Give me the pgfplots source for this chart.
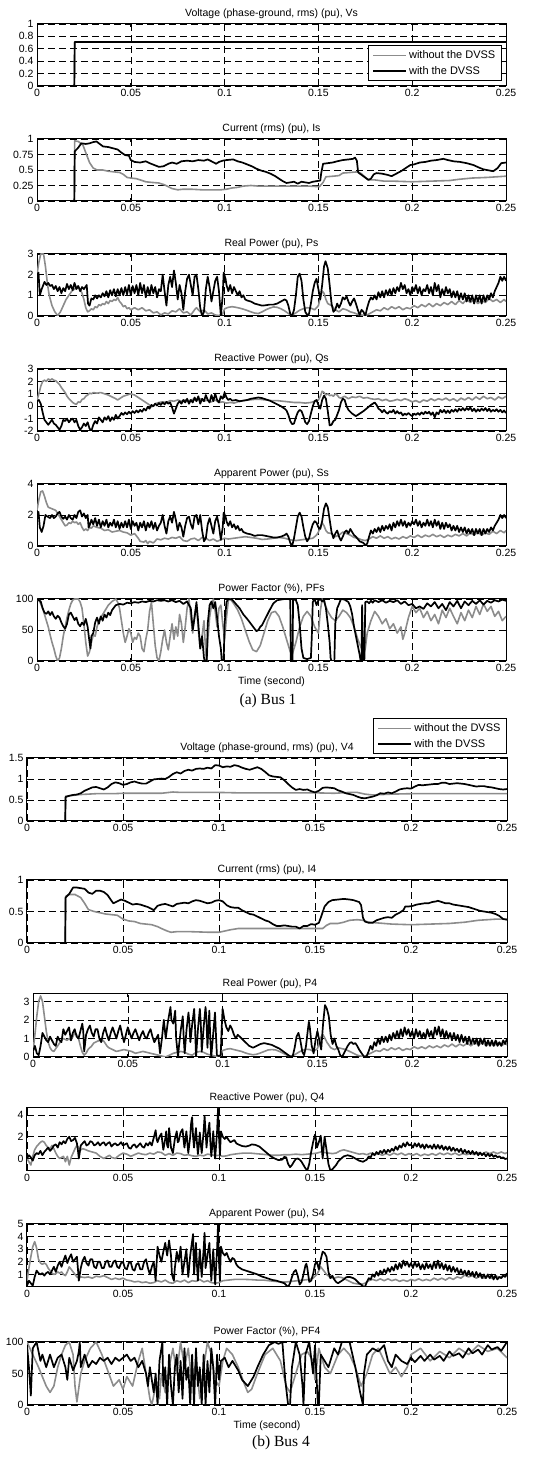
\documentclass[border=0pt]{standalone}
\usepackage{pgfplots}
\pgfplotsset{compat=1.18}
\usepackage{fontspec}
\setmainfont{Liberation Sans}
\newfontfamily\capfont{Liberation Serif}
\definecolor{mgray}{RGB}{140,140,140}
\pgfplotsset{
  mat/.style={
    scale only axis, xmin=0, xmax=0.25,
    xtick={0,0.05,0.1,0.15,0.2,0.25},
    xticklabels={0,0.05,0.1,0.15,0.2,0.25},
    grid=major,
    major grid style={black, line width=0.6pt, dash pattern=on 7pt off 4pt},
    axis line style={black, line width=1pt},
    tick align=inside, major tick length=3pt,
    tick style={black, line width=0.7pt},
    tick label style={font=\fontsize{10.5}{12}\selectfont},
    title style={font=\fontsize{10.5}{12}\selectfont, at={(0.5,1)}, anchor=south, yshift=-2.5pt, inner sep=2pt},
    legend style={draw=black, line width=1pt, font=\fontsize{11}{13}\selectfont, cells={anchor=west}, inner xsep=4pt, inner ysep=3pt, row sep=2pt},
    legend image code/.code={\draw[#1] (0pt,0pt) -- (33pt,0pt);},
    every axis plot/.append style={line join=round},
  },
  pa/.style={mat, width=469pt, height=62pt},
  pb/.style={mat, width=480pt, height=63pt},
  gr/.style={color=mgray, line width=1.6pt},
  bk/.style={black, line width=1.7pt},
  tlab/.style={xlabel={Time (second)}, xlabel style={font=\fontsize{10.5}{12}\selectfont, at={(axis description cs:0.5,0)}, anchor=north, yshift=-16pt, inner sep=0pt}},
}
\begin{document}
\begin{tikzpicture}
\path[use as bounding box] (0pt,0pt) rectangle (547pt,1458pt);
% ================= (a) Bus 1 =================
\begin{axis}[pa, at={(37pt,1372pt)}, anchor=south west, ymin=0, ymax=1,
  ytick={0,0.2,0.4,0.6,0.8,1}, yticklabels={0,0.2,0.4,0.6,0.8,1},
  title={Voltage (phase-ground, rms) (pu), Vs},
  legend style={at={(0.991,0.08)}, anchor=south east}]
\addplot[gr] coordinates {(0,0)(0.0199,0)(0.0201,0.71)(0.25,0.71)};
\addlegendentry{without the DVSS}
\addplot[bk] coordinates {(0,0)(0.0199,0)(0.0201,0.71)(0.25,0.71)};
\addlegendentry{with the DVSS}
\end{axis}

\begin{axis}[pa, at={(37pt,1257pt)}, anchor=south west, ymin=0, ymax=1,
  ytick={0,0.25,0.5,0.75,1}, yticklabels={0,0.25,0.5,0.75,1},
  title={Current (rms) (pu), Is}]
\addplot[gr] coordinates {(0,0)(0.0199,0)(0.0201,0.97)(0.022,0.96)(0.0245,0.90)(0.026,0.78)(0.028,0.62)(0.030,0.53)(0.032,0.50)(0.035,0.50)(0.038,0.48)(0.041,0.47)(0.044,0.46)(0.046,0.43)(0.048,0.38)(0.050,0.37)(0.053,0.36)(0.056,0.33)(0.058,0.31)(0.061,0.30)(0.065,0.29)(0.068,0.26)(0.070,0.23)(0.072,0.20)(0.075,0.18)(0.078,0.19)(0.082,0.19)(0.088,0.18)(0.094,0.18)(0.098,0.18)(0.101,0.19)(0.104,0.21)(0.107,0.22)(0.110,0.24)(0.114,0.25)(0.118,0.24)(0.125,0.24)(0.135,0.24)(0.145,0.24)(0.1505,0.23)(0.1525,0.30)(0.154,0.39)(0.158,0.40)(0.161,0.41)(0.163,0.45)(0.167,0.46)(0.171,0.47)(0.173,0.44)(0.175,0.38)(0.177,0.34)(0.180,0.34)(0.185,0.32)(0.19,0.32)(0.2,0.31)(0.21,0.32)(0.22,0.33)(0.225,0.35)(0.232,0.37)(0.24,0.38)(0.245,0.39)(0.25,0.40)};
\addplot[bk] coordinates {(0,0)(0.0199,0)(0.0201,0.80)(0.022,0.86)(0.0236,0.93)(0.026,0.92)(0.028,0.93)(0.030,0.95)(0.0317,0.96)(0.033,0.93)(0.0352,0.88)(0.038,0.87)(0.0405,0.85)(0.043,0.83)(0.045,0.78)(0.047,0.74)(0.049,0.73)(0.050,0.66)(0.052,0.63)(0.055,0.62)(0.058,0.64)(0.060,0.61)(0.0625,0.58)(0.065,0.55)(0.0675,0.56)(0.070,0.60)(0.072,0.62)(0.0745,0.60)(0.077,0.64)(0.080,0.65)(0.083,0.64)(0.086,0.66)(0.089,0.65)(0.091,0.67)(0.093,0.64)(0.0955,0.60)(0.097,0.63)(0.099,0.65)(0.101,0.66)(0.1046,0.67)(0.107,0.64)(0.1095,0.62)(0.112,0.59)(0.1145,0.56)(0.117,0.52)(0.1195,0.49)(0.122,0.47)(0.1245,0.44)(0.127,0.40)(0.129,0.36)(0.131,0.32)(0.133,0.29)(0.135,0.30)(0.137,0.31)(0.139,0.28)(0.141,0.31)(0.143,0.30)(0.145,0.29)(0.147,0.31)(0.149,0.32)(0.151,0.33)(0.1515,0.45)(0.1525,0.60)(0.155,0.61)(0.1575,0.62)(0.160,0.64)(0.163,0.66)(0.166,0.67)(0.1685,0.68)(0.1695,0.70)(0.1705,0.65)(0.1712,0.46)(0.1735,0.41)(0.1766,0.34)(0.178,0.36)(0.1795,0.43)(0.181,0.45)(0.184,0.44)(0.187,0.42)(0.189,0.40)(0.1915,0.44)(0.194,0.48)(0.1965,0.53)(0.199,0.58)(0.201,0.59)(0.204,0.62)(0.207,0.63)(0.210,0.65)(0.213,0.66)(0.2166,0.68)(0.219,0.66)(0.222,0.64)(0.2255,0.63)(0.229,0.61)(0.2326,0.58)(0.2355,0.54)(0.238,0.51)(0.2397,0.50)(0.2432,0.48)(0.2455,0.53)(0.2475,0.61)(0.25,0.62)};
\end{axis}

\begin{axis}[pa, at={(37pt,1142pt)}, anchor=south west, ymin=0, ymax=3,
  ytick={0,1,2,3}, yticklabels={0,1,2,3},
  title={Real Power (pu), Ps}]
\addplot[gr] coordinates {(0,2.0)(0.001,2.6)(0.002,3.0)(0.0035,3.0)(0.0045,2.4)(0.0055,1.6)(0.0065,1.0)(0.008,0.5)(0.0095,0.2)(0.011,0.02)(0.0125,0.2)(0.014,0.5)(0.0155,0.8)(0.017,1.0)(0.0185,1.2)(0.020,1.3)(0.0215,1.45)(0.023,1.3)(0.024,1.1)(0.025,0.8)(0.026,0.4)(0.027,0.2)(0.028,0.25)(0.029,0.35)(0.030,0.3)(0.031,0.45)(0.032,0.4)(0.033,0.55)(0.034,0.5)(0.035,0.6)(0.036,0.55)(0.037,0.7)(0.038,0.6)(0.039,0.75)(0.040,0.7)(0.041,0.8)(0.042,0.75)(0.043,0.9)(0.044,0.7)(0.045,0.6)(0.046,0.45)(0.047,0.5)(0.048,0.35)(0.049,0.4)(0.050,0.3)(0.052,0.4)(0.054,0.3)(0.056,0.4)(0.058,0.25)(0.060,0.3)(0.062,0.15)(0.064,0.2)(0.066,0.05)(0.068,0.15)(0.070,0.1)(0.072,0.25)(0.074,0.2)(0.076,0.35)(0.078,0.15)(0.080,0.2)(0.082,0.05)(0.084,0.3)(0.085,0.4)(0.087,0.2)(0.089,0.3)(0.091,0.1)(0.093,0.15)(0.095,0.05)(0.097,0.02)(0.099,0.1)(0.100,0.35)(0.102,0.42)(0.104,0.45)(0.106,0.42)(0.108,0.38)(0.110,0.33)(0.112,0.27)(0.114,0.2)(0.116,0.14)(0.118,0.12)(0.120,0.2)(0.122,0.3)(0.124,0.38)(0.126,0.44)(0.128,0.42)(0.130,0.35)(0.132,0.25)(0.134,0.12)(0.136,0.05)(0.138,0.15)(0.140,0.28)(0.142,0.35)(0.144,0.4)(0.146,0.38)(0.148,0.3)(0.150,0.5)(0.151,0.9)(0.152,1.2)(0.153,1.1)(0.154,0.8)(0.155,0.6)(0.157,0.5)(0.159,0.3)(0.161,0.2)(0.163,0.35)(0.165,0.3)(0.167,0.2)(0.169,0.15)(0.171,0.08)(0.173,0.05)(0.175,0.02)(0.177,0.1)(0.179,0.2)(0.181,0.3)(0.183,0.25)(0.185,0.4)(0.187,0.3)(0.189,0.45)(0.191,0.35)(0.193,0.45)(0.195,0.3)(0.197,0.4)(0.199,0.35)(0.201,0.5)(0.203,0.4)(0.205,0.55)(0.207,0.45)(0.209,0.6)(0.211,0.45)(0.213,0.6)(0.215,0.5)(0.217,0.65)(0.219,0.55)(0.221,0.7)(0.223,0.55)(0.225,0.75)(0.227,0.6)(0.229,0.8)(0.231,0.65)(0.233,0.8)(0.235,0.6)(0.237,0.75)(0.239,0.65)(0.241,0.85)(0.243,0.7)(0.245,0.8)(0.247,0.65)(0.249,0.8)(0.25,0.7)};
\addplot[bk] coordinates {(0,2.0)(0.0008,2.1)(0.0015,1.0)(0.0025,1.3)(0.004,1.65)(0.005,1.5)(0.006,1.6)(0.007,1.45)(0.008,1.5)(0.009,1.3)(0.010,1.45)(0.011,1.2)(0.012,1.4)(0.013,1.1)(0.014,1.35)(0.015,1.2)(0.016,1.55)(0.017,1.3)(0.018,1.5)(0.019,1.25)(0.020,1.6)(0.021,1.3)(0.022,1.45)(0.023,1.2)(0.024,1.4)(0.025,1.3)(0.0265,1.5)(0.0272,0.6)(0.028,0.5)(0.029,0.85)(0.030,0.8)(0.031,1.0)(0.032,0.85)(0.033,1.0)(0.034,0.9)(0.035,1.1)(0.036,0.95)(0.037,1.2)(0.038,0.9)(0.039,1.25)(0.040,1.0)(0.041,1.3)(0.042,0.95)(0.043,1.3)(0.044,1.0)(0.045,1.35)(0.046,1.0)(0.047,1.4)(0.048,1.05)(0.049,1.5)(0.050,1.0)(0.051,1.45)(0.052,1.1)(0.053,1.5)(0.054,1.0)(0.055,1.6)(0.056,1.1)(0.057,1.5)(0.058,0.9)(0.059,1.4)(0.060,1.0)(0.061,1.5)(0.062,1.1)(0.063,1.4)(0.064,0.9)(0.065,1.3)(0.066,1.2)(0.067,2.0)(0.068,1.2)(0.069,0.5)(0.070,1.5)(0.071,1.9)(0.072,1.4)(0.073,2.2)(0.074,1.6)(0.075,0.8)(0.076,1.5)(0.077,1.1)(0.078,0.3)(0.079,1.2)(0.080,1.8)(0.081,2.0)(0.082,1.5)(0.083,1.0)(0.084,1.9)(0.085,2.0)(0.086,1.3)(0.087,0.4)(0.088,0.0)(0.089,0.2)(0.090,1.3)(0.091,1.9)(0.092,1.4)(0.093,0.7)(0.094,1.2)(0.095,1.7)(0.096,1.9)(0.097,1.2)(0.098,0.0)(0.099,1.0)(0.0995,2.1)(0.1005,1.8)(0.101,1.5)(0.102,1.2)(0.103,1.5)(0.104,1.1)(0.105,1.4)(0.106,1.2)(0.107,1.0)(0.108,1.2)(0.109,0.9)(0.110,1.0)(0.111,0.8)(0.112,0.75)(0.114,0.7)(0.116,0.6)(0.118,0.55)(0.120,0.5)(0.122,0.52)(0.124,0.55)(0.126,0.55)(0.128,0.6)(0.130,0.7)(0.132,0.8)(0.133,0.75)(0.134,0.5)(0.135,0.1)(0.136,0.0)(0.137,0.3)(0.138,1.0)(0.139,1.9)(0.140,2.05)(0.141,1.7)(0.142,0.8)(0.143,0.2)(0.144,0.05)(0.145,0.1)(0.146,0.6)(0.147,1.2)(0.148,1.6)(0.149,1.8)(0.150,1.3)(0.151,0.8)(0.152,1.5)(0.153,2.4)(0.1538,2.65)(0.155,2.3)(0.156,1.5)(0.157,0.6)(0.158,0.2)(0.159,0.3)(0.160,0.6)(0.161,0.4)(0.162,0.6)(0.163,0.9)(0.164,0.8)(0.165,0.95)(0.166,0.7)(0.167,0.5)(0.168,0.7)(0.169,0.85)(0.170,0.6)(0.171,0.3)(0.172,0.05)(0.173,0.3)(0.174,0.2)(0.175,0.0)(0.176,0.4)(0.177,0.7)(0.178,0.9)(0.179,0.8)(0.180,1.0)(0.181,0.8)(0.182,1.15)(0.183,0.9)(0.184,1.2)(0.185,0.9)(0.186,1.25)(0.187,1.0)(0.188,1.3)(0.189,1.0)(0.190,1.35)(0.191,1.1)(0.192,1.4)(0.193,1.2)(0.194,1.6)(0.195,1.3)(0.196,1.5)(0.197,1.1)(0.198,1.3)(0.199,1.0)(0.200,1.4)(0.201,1.2)(0.202,1.5)(0.203,1.1)(0.204,1.4)(0.205,1.0)(0.206,1.3)(0.207,1.2)(0.208,1.5)(0.209,1.1)(0.210,1.4)(0.211,1.0)(0.212,1.6)(0.213,1.2)(0.214,1.5)(0.215,0.9)(0.216,1.3)(0.217,1.0)(0.218,1.4)(0.219,1.1)(0.220,1.3)(0.221,0.9)(0.222,1.2)(0.223,0.9)(0.224,1.2)(0.225,0.8)(0.226,1.1)(0.227,0.8)(0.228,1.1)(0.229,0.7)(0.230,1.0)(0.231,0.7)(0.232,1.0)(0.233,0.6)(0.234,1.0)(0.235,0.7)(0.236,1.0)(0.237,0.6)(0.238,1.0)(0.239,0.7)(0.240,1.0)(0.241,0.8)(0.242,1.1)(0.243,0.9)(0.244,1.2)(0.245,1.4)(0.246,1.6)(0.247,1.9)(0.248,1.7)(0.249,1.9)(0.25,1.7)};
\end{axis}

\begin{axis}[pa, at={(37pt,1027pt)}, anchor=south west, ymin=-2, ymax=3,
  ytick={-2,-1,0,1,2,3}, yticklabels={-2,-1,0,1,2,3},
  title={Reactive Power (pu), Qs}]
\addplot[gr] coordinates {(0,0.5)(0.001,1.0)(0.002,1.6)(0.003,2.0)(0.004,2.1)(0.005,2.0)(0.006,2.2)(0.007,2.1)(0.008,2.2)(0.009,2.1)(0.010,2.05)(0.011,1.9)(0.012,1.75)(0.013,1.5)(0.014,1.3)(0.015,1.1)(0.016,0.8)(0.017,0.6)(0.018,0.45)(0.019,0.3)(0.020,0.2)(0.021,0.15)(0.022,0.35)(0.023,0.3)(0.024,0.55)(0.025,0.6)(0.026,0.8)(0.027,0.9)(0.028,1.05)(0.029,1.0)(0.030,1.1)(0.032,1.05)(0.034,1.1)(0.036,1.0)(0.038,0.9)(0.040,0.75)(0.042,0.6)(0.043,0.5)(0.044,0.6)(0.046,0.8)(0.048,0.9)(0.050,1.0)(0.052,0.9)(0.054,0.7)(0.056,0.5)(0.058,0.3)(0.060,0.1)(0.061,-0.05)(0.062,0.0)(0.063,0.2)(0.065,0.3)(0.067,0.35)(0.069,0.3)(0.071,0.45)(0.073,0.4)(0.075,0.5)(0.077,0.4)(0.079,0.5)(0.081,0.45)(0.083,0.55)(0.085,0.45)(0.087,0.6)(0.089,0.4)(0.091,0.5)(0.093,0.35)(0.095,0.5)(0.097,0.3)(0.099,0.35)(0.101,0.25)(0.103,0.3)(0.105,0.25)(0.107,0.35)(0.110,0.45)(0.113,0.5)(0.116,0.55)(0.119,0.55)(0.122,0.5)(0.125,0.45)(0.128,0.45)(0.131,0.4)(0.134,0.35)(0.137,0.3)(0.140,0.3)(0.143,0.25)(0.146,0.3)(0.148,0.4)(0.150,0.5)(0.151,0.8)(0.152,1.2)(0.153,1.1)(0.154,0.9)(0.155,1.0)(0.156,0.85)(0.157,0.9)(0.158,0.8)(0.159,1.0)(0.160,0.9)(0.161,0.7)(0.162,0.65)(0.164,0.8)(0.166,0.6)(0.168,0.75)(0.170,0.7)(0.172,0.8)(0.174,0.65)(0.176,0.7)(0.178,0.6)(0.180,0.55)(0.182,0.6)(0.184,0.45)(0.186,0.55)(0.188,0.4)(0.190,0.45)(0.192,0.55)(0.194,0.45)(0.196,0.6)(0.198,0.5)(0.200,0.35)(0.202,0.45)(0.204,0.3)(0.206,0.5)(0.208,0.4)(0.210,0.6)(0.212,0.45)(0.214,0.6)(0.216,0.5)(0.218,0.65)(0.220,0.45)(0.222,0.6)(0.224,0.4)(0.226,0.65)(0.228,0.5)(0.230,0.7)(0.232,0.5)(0.234,0.75)(0.236,0.55)(0.238,0.8)(0.240,0.6)(0.242,0.7)(0.244,0.5)(0.246,0.75)(0.248,0.6)(0.25,0.8)};
\addplot[bk] coordinates {(0,0.4)(0.001,0.5)(0.002,0.2)(0.003,-0.5)(0.004,-1.1)(0.005,-1.3)(0.006,-1.5)(0.007,-1.3)(0.008,-1.1)(0.009,-1.4)(0.010,-1.5)(0.011,-1.7)(0.012,-1.9)(0.013,-1.6)(0.014,-1.1)(0.015,-1.2)(0.016,-1.0)(0.017,-1.3)(0.018,-1.1)(0.019,-1.0)(0.020,-1.3)(0.021,-1.1)(0.022,-1.6)(0.023,-1.9)(0.024,-1.7)(0.025,-1.4)(0.026,-1.6)(0.027,-1.3)(0.028,-1.8)(0.029,-2.0)(0.030,-1.5)(0.031,-1.2)(0.032,-1.4)(0.033,-0.9)(0.034,-1.1)(0.035,-1.3)(0.036,-0.9)(0.037,-1.1)(0.038,-0.8)(0.039,-1.2)(0.040,-0.9)(0.041,-1.1)(0.042,-0.7)(0.043,-1.0)(0.044,-0.8)(0.045,-0.55)(0.046,-0.7)(0.047,-0.5)(0.048,-0.65)(0.049,-0.45)(0.050,-0.6)(0.051,-0.4)(0.052,-0.55)(0.053,-0.35)(0.054,-0.5)(0.055,-0.3)(0.056,-0.45)(0.057,-0.2)(0.058,-0.35)(0.059,-0.05)(0.060,-0.2)(0.061,0.1)(0.062,0.0)(0.063,0.2)(0.064,0.05)(0.065,0.25)(0.066,0.1)(0.067,0.3)(0.068,0.15)(0.069,0.35)(0.070,0.2)(0.071,0.3)(0.072,-0.1)(0.073,-0.6)(0.074,-0.2)(0.075,0.2)(0.076,0.4)(0.077,0.2)(0.078,0.5)(0.079,0.3)(0.080,0.6)(0.081,0.2)(0.082,0.5)(0.083,0.3)(0.084,0.7)(0.085,0.4)(0.086,0.8)(0.087,0.2)(0.088,0.6)(0.089,0.4)(0.090,0.9)(0.091,0.5)(0.092,0.3)(0.093,0.9)(0.094,0.4)(0.095,1.0)(0.096,0.5)(0.097,0.3)(0.098,0.8)(0.099,0.6)(0.100,1.1)(0.101,0.7)(0.102,0.5)(0.103,0.6)(0.104,0.45)(0.106,0.5)(0.108,0.4)(0.110,0.45)(0.112,0.5)(0.114,0.6)(0.116,0.65)(0.118,0.7)(0.120,0.65)(0.122,0.55)(0.124,0.45)(0.126,0.3)(0.128,0.15)(0.130,0.0)(0.132,-0.2)(0.133,-0.35)(0.134,-0.7)(0.135,-1.2)(0.136,-1.45)(0.137,-1.4)(0.138,-0.9)(0.139,-0.5)(0.140,-0.3)(0.141,-0.4)(0.142,-0.8)(0.143,-1.3)(0.144,-1.45)(0.145,-1.2)(0.146,-0.6)(0.147,0.0)(0.148,0.4)(0.149,0.5)(0.150,0.1)(0.151,-0.2)(0.152,0.5)(0.153,0.85)(0.154,0.6)(0.155,-0.4)(0.156,-1.55)(0.157,-1.5)(0.158,-1.2)(0.159,-1.1)(0.160,-0.7)(0.161,-0.3)(0.162,0.3)(0.163,0.6)(0.164,0.5)(0.165,0.0)(0.166,-0.3)(0.168,-0.6)(0.170,-0.8)(0.172,-0.6)(0.174,-0.4)(0.176,-0.15)(0.178,0.1)(0.180,0.3)(0.181,0.1)(0.182,-0.2)(0.183,-0.3)(0.184,-0.5)(0.185,-0.3)(0.186,-0.5)(0.187,-0.6)(0.188,-0.4)(0.189,-0.5)(0.190,-0.3)(0.191,-0.6)(0.192,-0.4)(0.193,-0.6)(0.194,-0.5)(0.195,-0.75)(0.196,-0.6)(0.197,-0.7)(0.198,-0.55)(0.199,-0.7)(0.200,-0.8)(0.201,-0.6)(0.202,-0.7)(0.203,-0.55)(0.204,-0.7)(0.205,-0.5)(0.206,-0.65)(0.207,-0.45)(0.208,-0.6)(0.209,-0.45)(0.210,-0.7)(0.211,-0.5)(0.212,-0.9)(0.213,-0.5)(0.214,-0.65)(0.215,-0.3)(0.216,-0.5)(0.217,-0.3)(0.218,-0.55)(0.219,-0.35)(0.220,-0.55)(0.221,-0.3)(0.222,-0.45)(0.223,-0.25)(0.224,-0.45)(0.225,-0.2)(0.226,-0.35)(0.227,-0.15)(0.228,-0.35)(0.229,-0.15)(0.230,-0.3)(0.231,-0.1)(0.232,-0.4)(0.233,-0.2)(0.234,-0.45)(0.235,-0.25)(0.236,-0.4)(0.237,-0.2)(0.238,-0.35)(0.239,-0.15)(0.240,-0.4)(0.241,-0.2)(0.242,-0.45)(0.243,-0.3)(0.244,-0.4)(0.245,-0.25)(0.246,-0.45)(0.247,-0.3)(0.248,-0.5)(0.249,-0.35)(0.25,-0.55)};
\end{axis}

\begin{axis}[pa, at={(37pt,912pt)}, anchor=south west, ymin=0, ymax=4,
  ytick={0,2,4}, yticklabels={0,2,4},
  title={Apparent Power (pu), Ss}]
\addplot[gr] coordinates {(0,2.3)(0.001,3.0)(0.002,3.5)(0.003,3.55)(0.004,3.2)(0.005,2.8)(0.006,2.5)(0.008,2.4)(0.010,2.3)(0.011,2.1)(0.012,1.9)(0.013,1.7)(0.014,1.5)(0.015,1.3)(0.016,1.35)(0.017,1.5)(0.018,1.45)(0.019,1.6)(0.020,1.5)(0.021,1.55)(0.022,1.4)(0.023,1.5)(0.024,1.2)(0.025,1.0)(0.026,1.1)(0.027,1.0)(0.028,1.2)(0.029,1.15)(0.030,1.3)(0.032,1.2)(0.034,1.15)(0.036,1.0)(0.038,1.05)(0.040,0.9)(0.042,0.95)(0.044,1.0)(0.046,0.9)(0.048,0.85)(0.050,0.7)(0.052,0.8)(0.054,0.5)(0.055,0.3)(0.057,0.25)(0.058,0.35)(0.059,0.15)(0.060,0.3)(0.062,0.2)(0.064,0.45)(0.066,0.4)(0.068,0.5)(0.070,0.45)(0.072,0.55)(0.074,0.5)(0.076,0.6)(0.078,0.35)(0.080,0.3)(0.082,0.45)(0.084,0.5)(0.086,0.35)(0.088,0.55)(0.090,0.5)(0.092,0.35)(0.094,0.45)(0.096,0.3)(0.098,0.4)(0.100,0.5)(0.102,0.45)(0.105,0.5)(0.108,0.55)(0.111,0.6)(0.114,0.55)(0.117,0.5)(0.120,0.42)(0.123,0.45)(0.126,0.5)(0.129,0.55)(0.132,0.5)(0.135,0.4)(0.138,0.35)(0.141,0.4)(0.144,0.45)(0.147,0.5)(0.149,0.7)(0.150,0.9)(0.151,1.2)(0.152,1.5)(0.153,1.3)(0.154,1.0)(0.155,0.85)(0.157,0.8)(0.159,0.6)(0.161,0.7)(0.163,0.9)(0.165,0.8)(0.167,0.7)(0.169,0.55)(0.171,0.5)(0.173,0.4)(0.175,0.35)(0.177,0.45)(0.179,0.6)(0.181,0.5)(0.183,0.65)(0.185,0.5)(0.187,0.6)(0.189,0.45)(0.191,0.55)(0.193,0.45)(0.195,0.6)(0.197,0.5)(0.199,0.65)(0.201,0.55)(0.203,0.7)(0.205,0.55)(0.207,0.7)(0.209,0.6)(0.211,0.75)(0.213,0.6)(0.215,0.7)(0.217,0.55)(0.219,0.7)(0.221,0.6)(0.223,0.75)(0.225,0.65)(0.227,0.8)(0.229,0.65)(0.231,0.85)(0.233,0.7)(0.235,0.9)(0.237,0.7)(0.239,0.85)(0.241,0.75)(0.243,0.95)(0.245,0.8)(0.247,1.0)(0.249,0.85)(0.25,1.0)};
\addplot[bk] coordinates {(0,2.0)(0.0008,2.2)(0.0015,1.2)(0.0025,0.9)(0.0035,1.3)(0.0045,2.0)(0.0055,1.9)(0.007,1.8)(0.008,2.0)(0.009,1.8)(0.010,1.9)(0.011,2.1)(0.012,2.2)(0.013,1.9)(0.014,1.75)(0.015,1.9)(0.016,1.7)(0.017,2.0)(0.018,1.8)(0.019,1.7)(0.020,2.0)(0.021,1.8)(0.022,2.2)(0.023,2.3)(0.024,1.9)(0.025,2.1)(0.026,1.8)(0.027,2.0)(0.0275,1.2)(0.028,1.3)(0.029,1.7)(0.030,1.4)(0.031,1.8)(0.032,1.3)(0.033,1.7)(0.034,1.2)(0.035,1.6)(0.036,1.3)(0.037,1.7)(0.038,1.2)(0.039,1.5)(0.040,1.3)(0.041,1.7)(0.042,1.2)(0.043,1.6)(0.044,1.1)(0.045,1.5)(0.046,1.2)(0.047,1.6)(0.048,1.2)(0.049,1.7)(0.050,1.1)(0.051,1.6)(0.052,1.3)(0.053,1.5)(0.054,1.0)(0.055,1.5)(0.056,1.2)(0.057,1.6)(0.058,1.0)(0.059,1.5)(0.060,1.2)(0.061,1.6)(0.062,1.1)(0.063,1.5)(0.064,1.0)(0.065,1.3)(0.066,1.5)(0.067,2.0)(0.068,1.3)(0.069,0.8)(0.070,1.6)(0.071,1.9)(0.072,1.5)(0.073,2.2)(0.074,1.7)(0.075,1.0)(0.076,1.5)(0.077,1.2)(0.078,0.6)(0.079,1.3)(0.080,1.8)(0.081,1.9)(0.082,1.4)(0.083,1.1)(0.084,1.9)(0.085,2.0)(0.086,1.4)(0.087,2.0)(0.088,1.0)(0.089,0.3)(0.090,0.5)(0.091,1.4)(0.092,1.8)(0.093,1.3)(0.094,0.8)(0.095,1.6)(0.096,1.9)(0.097,1.3)(0.098,0.4)(0.099,1.2)(0.0995,2.15)(0.1005,1.9)(0.101,1.6)(0.102,1.3)(0.103,1.6)(0.104,1.2)(0.105,1.4)(0.106,1.1)(0.107,1.3)(0.108,1.0)(0.109,1.1)(0.110,0.9)(0.112,0.8)(0.114,0.75)(0.116,0.65)(0.118,0.7)(0.120,0.7)(0.122,0.65)(0.124,0.6)(0.126,0.55)(0.128,0.55)(0.130,0.6)(0.132,0.7)(0.133,0.8)(0.134,0.6)(0.135,0.2)(0.136,0.0)(0.137,0.5)(0.138,1.2)(0.139,1.9)(0.140,2.15)(0.141,1.9)(0.142,1.2)(0.143,0.6)(0.144,0.3)(0.145,0.5)(0.146,1.0)(0.147,1.4)(0.148,1.6)(0.149,1.5)(0.150,1.2)(0.151,1.1)(0.152,1.6)(0.153,2.4)(0.154,2.75)(0.155,2.5)(0.156,1.7)(0.157,0.9)(0.158,0.5)(0.159,0.8)(0.160,1.0)(0.161,0.6)(0.162,0.35)(0.163,0.6)(0.164,0.9)(0.165,1.0)(0.166,0.8)(0.167,1.1)(0.168,0.9)(0.169,0.7)(0.170,0.6)(0.171,0.45)(0.172,0.3)(0.173,0.25)(0.174,0.2)(0.175,0.05)(0.176,0.15)(0.177,0.6)(0.178,1.0)(0.179,0.8)(0.180,1.1)(0.181,0.9)(0.182,1.2)(0.183,0.9)(0.184,1.3)(0.185,1.0)(0.186,1.3)(0.187,1.1)(0.188,1.4)(0.189,1.0)(0.190,1.5)(0.191,1.2)(0.192,1.6)(0.193,1.3)(0.194,1.7)(0.195,1.3)(0.196,1.6)(0.197,1.2)(0.198,1.5)(0.199,1.3)(0.200,1.6)(0.201,1.4)(0.202,1.7)(0.203,1.3)(0.204,1.6)(0.205,1.2)(0.206,1.5)(0.207,1.3)(0.208,1.7)(0.209,1.3)(0.210,1.6)(0.211,1.2)(0.212,1.7)(0.213,1.3)(0.214,1.6)(0.215,1.1)(0.216,1.5)(0.217,1.1)(0.218,1.5)(0.219,1.2)(0.220,1.4)(0.221,1.0)(0.222,1.3)(0.223,1.0)(0.224,1.3)(0.225,0.9)(0.226,1.2)(0.227,0.9)(0.228,1.2)(0.229,0.8)(0.230,1.1)(0.231,0.8)(0.232,1.1)(0.233,0.7)(0.234,1.1)(0.235,0.8)(0.236,1.1)(0.237,0.7)(0.238,1.1)(0.239,0.8)(0.240,1.1)(0.241,0.9)(0.242,1.2)(0.243,1.0)(0.244,1.3)(0.245,1.5)(0.246,1.7)(0.247,2.0)(0.248,1.8)(0.249,2.0)(0.25,1.8)};
\end{axis}

\begin{axis}[pa, tlab, at={(37pt,797pt)}, anchor=south west, ymin=0, ymax=100,
  ytick={0,50,100}, yticklabels={0,50,100},
  title={Power Factor (\%), PFs}]
\addplot[gr] coordinates {(0,100)(0.001,98)(0.002,92)(0.003,85)(0.004,75)(0.005,65)(0.006,55)(0.007,42)(0.008,30)(0.009,20)(0.010,8)(0.011,0)(0.012,5)(0.013,20)(0.014,40)(0.015,55)(0.016,70)(0.017,82)(0.018,92)(0.019,98)(0.020,100)(0.022,100)(0.023,95)(0.024,85)(0.025,60)(0.026,30)(0.027,8)(0.028,15)(0.029,30)(0.030,42)(0.031,40)(0.032,55)(0.033,65)(0.034,70)(0.036,80)(0.038,90)(0.040,96)(0.042,100)(0.043,95)(0.044,85)(0.045,65)(0.046,45)(0.047,30)(0.048,40)(0.049,52)(0.050,45)(0.051,30)(0.052,38)(0.053,35)(0.054,45)(0.055,40)(0.056,20)(0.057,15)(0.058,35)(0.059,50)(0.060,80)(0.061,95)(0.062,60)(0.063,25)(0.064,5)(0.065,0)(0.066,15)(0.067,35)(0.068,50)(0.069,30)(0.070,18)(0.071,40)(0.072,60)(0.073,35)(0.074,55)(0.075,40)(0.076,75)(0.077,60)(0.078,30)(0.079,55)(0.080,85)(0.081,100)(0.082,70)(0.083,45)(0.084,75)(0.085,90)(0.086,50)(0.087,20)(0.088,40)(0.089,65)(0.090,10)(0.0905,0)(0.091,30)(0.092,70)(0.093,90)(0.094,100)(0.095,80)(0.096,55)(0.097,85)(0.098,90)(0.099,60)(0.100,35)(0.101,70)(0.102,98)(0.103,100)(0.105,92)(0.107,82)(0.109,68)(0.111,50)(0.113,32)(0.115,18)(0.117,15)(0.119,25)(0.121,45)(0.123,65)(0.125,78)(0.127,80)(0.129,72)(0.131,55)(0.133,35)(0.135,15)(0.136,10)(0.138,30)(0.140,55)(0.142,72)(0.144,80)(0.146,72)(0.148,55)(0.150,45)(0.151,80)(0.152,100)(0.153,95)(0.155,80)(0.157,70)(0.159,65)(0.161,72)(0.163,82)(0.165,78)(0.167,70)(0.169,55)(0.171,35)(0.173,20)(0.174,10)(0.175,20)(0.176,45)(0.178,65)(0.180,80)(0.182,72)(0.184,60)(0.186,68)(0.188,52)(0.190,60)(0.192,45)(0.194,55)(0.195,35)(0.196,45)(0.198,70)(0.200,88)(0.202,78)(0.204,85)(0.206,70)(0.208,80)(0.210,65)(0.212,75)(0.214,60)(0.216,82)(0.218,70)(0.220,85)(0.222,72)(0.224,60)(0.226,78)(0.228,65)(0.230,82)(0.232,70)(0.234,88)(0.236,75)(0.238,92)(0.240,80)(0.242,88)(0.244,72)(0.246,80)(0.248,65)(0.25,72)};
\addplot[bk] coordinates {(0,100)(0.001,98)(0.002,96)(0.003,85)(0.004,78)(0.005,76)(0.006,80)(0.007,74)(0.008,79)(0.009,72)(0.010,68)(0.011,73)(0.012,70)(0.013,62)(0.014,56)(0.015,52)(0.016,60)(0.017,75)(0.018,78)(0.019,72)(0.020,66)(0.021,70)(0.022,60)(0.023,56)(0.024,62)(0.025,58)(0.026,68)(0.027,55)(0.028,30)(0.0285,20)(0.029,40)(0.030,45)(0.031,62)(0.032,70)(0.033,60)(0.034,72)(0.035,65)(0.036,75)(0.037,70)(0.038,78)(0.039,74)(0.040,82)(0.041,86)(0.042,90)(0.044,92)(0.046,91)(0.048,94)(0.050,93)(0.052,95)(0.054,94)(0.056,96)(0.058,95)(0.060,97)(0.062,96)(0.064,98)(0.066,97)(0.068,98)(0.070,96)(0.072,98)(0.074,95)(0.076,97)(0.078,92)(0.080,96)(0.082,85)(0.083,50)(0.084,70)(0.085,95)(0.086,60)(0.087,20)(0.088,40)(0.089,5)(0.0895,0)(0.0905,0)(0.091,60)(0.092,90)(0.093,96)(0.094,85)(0.095,95)(0.096,70)(0.097,40)(0.098,20)(0.0985,0)(0.0995,0)(0.100,60)(0.101,95)(0.102,100)(0.104,99)(0.106,92)(0.108,85)(0.110,75)(0.112,68)(0.114,60)(0.116,52)(0.117,48)(0.118,50)(0.119,55)(0.120,58)(0.122,70)(0.124,82)(0.126,93)(0.128,98)(0.130,99)(0.132,100)(0.134,100)(0.135,99)(0.1353,0)(0.1362,0)(0.1365,100)(0.138,98)(0.139,90)(0.140,60)(0.141,20)(0.142,5)(0.144,3)(0.146,5)(0.1465,40)(0.147,95)(0.148,100)(0.149,90)(0.150,98)(0.151,100)(0.152,96)(0.153,99)(0.154,85)(0.155,60)(0.156,30)(0.1565,5)(0.157,0)(0.1585,0)(0.159,60)(0.160,85)(0.161,92)(0.162,100)(0.164,99)(0.166,95)(0.167,88)(0.168,75)(0.169,55)(0.170,40)(0.171,25)(0.172,10)(0.1725,0)(0.173,0)(0.1733,90)(0.1738,0)(0.1745,0)(0.175,95)(0.176,96)(0.177,93)(0.178,97)(0.179,94)(0.180,98)(0.182,95)(0.184,98)(0.186,94)(0.188,97)(0.190,95)(0.192,98)(0.194,92)(0.196,96)(0.198,90)(0.200,92)(0.202,85)(0.204,88)(0.206,84)(0.208,93)(0.210,88)(0.212,95)(0.214,85)(0.216,92)(0.218,82)(0.220,95)(0.222,88)(0.224,97)(0.226,85)(0.228,96)(0.230,90)(0.232,97)(0.234,92)(0.236,98)(0.238,91)(0.240,97)(0.242,94)(0.244,98)(0.246,96)(0.248,99)(0.25,97)};
\end{axis}
\node[font=\capfont\fontsize{15.5}{18}\selectfont] at (268pt,757pt) {(a) Bus 1};

% ================= (b) Bus 4 =================
\begin{axis}[pb, at={(27pt,637pt)}, anchor=south west, ymin=0, ymax=1.5,
  ytick={0,0.5,1,1.5}, yticklabels={0,0.5,1,1.5},
  title={Voltage (phase-ground, rms) (pu), V4},
  legend style={at={(1,1.06)}, anchor=south east}]
\addplot[gr] coordinates {(0,0)(0.0199,0)(0.0201,0.59)(0.024,0.61)(0.028,0.63)(0.032,0.64)(0.036,0.65)(0.045,0.65)(0.05,0.66)(0.06,0.66)(0.07,0.66)(0.076,0.69)(0.08,0.68)(0.09,0.68)(0.1,0.68)(0.11,0.67)(0.12,0.67)(0.13,0.67)(0.14,0.67)(0.15,0.67)(0.16,0.66)(0.168,0.68)(0.172,0.68)(0.176,0.64)(0.18,0.62)(0.19,0.64)(0.2,0.65)(0.21,0.65)(0.22,0.65)(0.23,0.65)(0.24,0.65)(0.25,0.65)};
\addlegendentry{without the DVSS}
\addplot[bk] coordinates {(0,0)(0.0199,0)(0.0201,0.57)(0.022,0.60)(0.024,0.62)(0.026,0.63)(0.028,0.66)(0.030,0.72)(0.032,0.76)(0.034,0.80)(0.036,0.81)(0.038,0.78)(0.040,0.75)(0.042,0.80)(0.044,0.88)(0.046,0.92)(0.048,0.90)(0.050,0.86)(0.052,0.88)(0.054,0.92)(0.056,0.94)(0.058,0.91)(0.060,0.89)(0.062,0.89)(0.064,0.94)(0.066,0.99)(0.068,1.00)(0.070,1.01)(0.072,1.00)(0.074,1.05)(0.076,1.12)(0.078,1.16)(0.080,1.13)(0.082,1.19)(0.084,1.22)(0.086,1.20)(0.088,1.24)(0.090,1.25)(0.092,1.24)(0.094,1.27)(0.096,1.25)(0.098,1.33)(0.100,1.32)(0.102,1.28)(0.104,1.30)(0.106,1.29)(0.108,1.33)(0.110,1.31)(0.112,1.27)(0.114,1.24)(0.116,1.22)(0.118,1.25)(0.120,1.28)(0.122,1.24)(0.124,1.17)(0.126,1.09)(0.128,1.06)(0.130,1.05)(0.132,1.04)(0.134,0.97)(0.136,0.88)(0.138,0.80)(0.140,0.74)(0.142,0.76)(0.144,0.74)(0.146,0.75)(0.148,0.71)(0.150,0.68)(0.152,0.72)(0.154,0.79)(0.156,0.80)(0.158,0.79)(0.160,0.78)(0.162,0.73)(0.164,0.70)(0.166,0.66)(0.168,0.64)(0.170,0.62)(0.172,0.58)(0.174,0.55)(0.176,0.54)(0.178,0.56)(0.180,0.58)(0.182,0.61)(0.184,0.66)(0.186,0.65)(0.188,0.68)(0.190,0.66)(0.192,0.70)(0.194,0.75)(0.196,0.77)(0.198,0.78)(0.200,0.77)(0.202,0.82)(0.204,0.86)(0.206,0.85)(0.208,0.86)(0.210,0.87)(0.212,0.88)(0.214,0.88)(0.216,0.91)(0.218,0.91)(0.220,0.88)(0.222,0.89)(0.224,0.90)(0.226,0.89)(0.228,0.88)(0.230,0.86)(0.232,0.84)(0.234,0.82)(0.236,0.83)(0.238,0.83)(0.240,0.81)(0.242,0.80)(0.244,0.78)(0.246,0.76)(0.248,0.75)(0.25,0.76)};
\addlegendentry{with the DVSS}
\end{axis}

\begin{axis}[pb, at={(27pt,515pt)}, anchor=south west, ymin=0, ymax=1,
  ytick={0,0.5,1}, yticklabels={0,0.5,1},
  title={Current (rms) (pu), I4}]
\addplot[gr] coordinates {(0,0)(0.0199,0)(0.0201,0.74)(0.022,0.77)(0.025,0.77)(0.028,0.72)(0.030,0.63)(0.032,0.53)(0.035,0.50)(0.038,0.48)(0.041,0.46)(0.044,0.45)(0.047,0.44)(0.050,0.38)(0.053,0.35)(0.056,0.34)(0.059,0.31)(0.062,0.30)(0.065,0.29)(0.068,0.26)(0.070,0.23)(0.073,0.19)(0.075,0.17)(0.078,0.18)(0.085,0.18)(0.095,0.17)(0.100,0.17)(0.103,0.19)(0.106,0.21)(0.110,0.23)(0.12,0.23)(0.13,0.23)(0.14,0.23)(0.15,0.23)(0.154,0.23)(0.156,0.28)(0.158,0.31)(0.162,0.31)(0.165,0.33)(0.168,0.36)(0.172,0.37)(0.175,0.36)(0.178,0.33)(0.182,0.32)(0.19,0.30)(0.2,0.29)(0.21,0.30)(0.22,0.31)(0.228,0.33)(0.235,0.36)(0.24,0.37)(0.245,0.38)(0.25,0.38)};
\addplot[bk] coordinates {(0,0)(0.0199,0)(0.0201,0.72)(0.022,0.78)(0.024,0.88)(0.026,0.88)(0.028,0.87)(0.030,0.86)(0.032,0.80)(0.034,0.78)(0.036,0.83)(0.038,0.83)(0.040,0.81)(0.042,0.76)(0.044,0.67)(0.045,0.63)(0.047,0.66)(0.049,0.69)(0.051,0.67)(0.053,0.64)(0.055,0.61)(0.057,0.62)(0.059,0.61)(0.061,0.59)(0.063,0.57)(0.065,0.54)(0.066,0.52)(0.068,0.59)(0.070,0.61)(0.072,0.62)(0.074,0.60)(0.076,0.58)(0.078,0.62)(0.080,0.63)(0.082,0.64)(0.084,0.63)(0.086,0.66)(0.088,0.68)(0.090,0.67)(0.092,0.65)(0.094,0.63)(0.096,0.64)(0.098,0.67)(0.100,0.68)(0.102,0.66)(0.104,0.60)(0.106,0.57)(0.108,0.56)(0.110,0.56)(0.112,0.52)(0.114,0.49)(0.116,0.46)(0.118,0.45)(0.120,0.42)(0.122,0.39)(0.124,0.36)(0.126,0.34)(0.128,0.30)(0.130,0.27)(0.132,0.27)(0.134,0.28)(0.136,0.27)(0.138,0.26)(0.140,0.26)(0.142,0.23)(0.144,0.27)(0.146,0.27)(0.148,0.30)(0.150,0.29)(0.152,0.32)(0.153,0.40)(0.155,0.58)(0.157,0.65)(0.159,0.68)(0.162,0.69)(0.165,0.70)(0.168,0.69)(0.170,0.68)(0.173,0.65)(0.174,0.60)(0.175,0.40)(0.176,0.34)(0.178,0.32)(0.180,0.32)(0.182,0.36)(0.184,0.38)(0.186,0.40)(0.188,0.41)(0.190,0.40)(0.192,0.45)(0.194,0.48)(0.196,0.52)(0.197,0.58)(0.199,0.58)(0.201,0.59)(0.203,0.61)(0.205,0.62)(0.207,0.63)(0.209,0.63)(0.211,0.65)(0.213,0.66)(0.214,0.67)(0.216,0.65)(0.218,0.63)(0.220,0.63)(0.222,0.61)(0.224,0.60)(0.226,0.59)(0.228,0.58)(0.230,0.57)(0.232,0.55)(0.234,0.53)(0.236,0.51)(0.238,0.50)(0.240,0.49)(0.242,0.48)(0.244,0.46)(0.246,0.43)(0.248,0.38)(0.25,0.37)};
\end{axis}

\begin{axis}[mat, width=474pt, height=63pt, at={(33pt,401pt)}, anchor=south west, ymin=0, ymax=3.4,
  ytick={0,1,2,3}, yticklabels={0,1,2,3},
  title={Real Power (pu), P4}]
\addplot[gr] coordinates {(0,0.3)(0.001,1.2)(0.002,2.2)(0.003,3.0)(0.004,3.3)(0.005,3.0)(0.006,2.2)(0.007,1.4)(0.008,0.8)(0.009,0.5)(0.010,0.35)(0.011,0.3)(0.012,0.45)(0.013,0.6)(0.014,0.75)(0.015,0.9)(0.016,1.0)(0.017,0.95)(0.018,0.9)(0.019,1.0)(0.020,0.9)(0.021,1.1)(0.022,1.3)(0.023,1.2)(0.024,1.0)(0.025,0.6)(0.026,0.25)(0.027,0.1)(0.028,0.2)(0.029,0.4)(0.030,0.5)(0.031,0.6)(0.032,0.75)(0.033,0.8)(0.034,0.85)(0.035,0.9)(0.036,0.85)(0.037,0.9)(0.038,0.75)(0.039,0.6)(0.040,0.5)(0.042,0.4)(0.044,0.3)(0.046,0.35)(0.048,0.4)(0.050,0.35)(0.052,0.3)(0.054,0.2)(0.056,0.25)(0.058,0.3)(0.060,0.25)(0.062,0.2)(0.064,0.15)(0.066,0.1)(0.068,0.05)(0.070,0.0)(0.072,0.1)(0.074,0.2)(0.076,0.25)(0.078,0.3)(0.080,0.25)(0.082,0.15)(0.084,0.1)(0.086,0.25)(0.088,0.3)(0.090,0.25)(0.092,0.15)(0.094,0.1)(0.096,0.05)(0.098,0.02)(0.099,0.1)(0.100,0.35)(0.102,0.42)(0.104,0.45)(0.106,0.4)(0.108,0.35)(0.110,0.3)(0.112,0.22)(0.114,0.16)(0.116,0.12)(0.118,0.15)(0.120,0.22)(0.122,0.3)(0.124,0.38)(0.126,0.4)(0.128,0.38)(0.130,0.3)(0.132,0.2)(0.134,0.1)(0.136,0.05)(0.138,0.12)(0.140,0.25)(0.142,0.35)(0.144,0.42)(0.146,0.4)(0.148,0.3)(0.150,0.45)(0.151,0.8)(0.152,1.1)(0.153,1.2)(0.154,1.0)(0.155,0.8)(0.157,0.5)(0.159,0.4)(0.161,0.5)(0.163,0.45)(0.165,0.4)(0.167,0.3)(0.169,0.2)(0.171,0.1)(0.173,0.05)(0.175,0.03)(0.177,0.15)(0.179,0.25)(0.181,0.35)(0.183,0.3)(0.185,0.45)(0.187,0.35)(0.189,0.5)(0.191,0.4)(0.193,0.5)(0.195,0.35)(0.197,0.45)(0.199,0.4)(0.201,0.55)(0.203,0.45)(0.205,0.55)(0.207,0.45)(0.209,0.6)(0.211,0.5)(0.213,0.6)(0.215,0.5)(0.217,0.65)(0.219,0.55)(0.221,0.7)(0.223,0.55)(0.225,0.7)(0.227,0.6)(0.229,0.75)(0.231,0.6)(0.233,0.8)(0.235,0.65)(0.237,0.8)(0.239,0.6)(0.241,0.75)(0.243,0.6)(0.245,0.8)(0.247,0.6)(0.249,0.75)(0.25,0.65)};
\addplot[bk] coordinates {(0,0.3)(0.001,0.6)(0.002,0.2)(0.003,0.1)(0.004,0.6)(0.005,1.3)(0.006,1.1)(0.007,0.9)(0.008,0.8)(0.009,1.1)(0.010,0.9)(0.011,0.7)(0.012,0.6)(0.013,1.1)(0.014,0.9)(0.015,0.8)(0.016,1.5)(0.017,1.2)(0.018,1.4)(0.019,1.6)(0.020,0.9)(0.021,1.3)(0.022,1.5)(0.023,1.1)(0.024,1.0)(0.025,1.4)(0.026,1.8)(0.0265,1.4)(0.027,0.3)(0.028,1.2)(0.029,1.5)(0.030,1.7)(0.031,1.3)(0.032,1.1)(0.033,1.5)(0.034,1.5)(0.035,1.0)(0.036,0.8)(0.037,1.3)(0.038,1.6)(0.039,1.2)(0.040,0.9)(0.041,1.3)(0.042,1.6)(0.043,1.3)(0.044,1.0)(0.045,1.4)(0.046,1.7)(0.047,1.2)(0.048,0.8)(0.049,1.2)(0.050,1.6)(0.051,1.3)(0.052,1.0)(0.053,1.3)(0.054,1.5)(0.055,1.2)(0.056,0.9)(0.057,1.2)(0.058,1.4)(0.059,1.1)(0.060,1.0)(0.061,1.3)(0.062,1.5)(0.063,1.1)(0.064,0.8)(0.065,1.0)(0.066,1.2)(0.067,0.2)(0.068,1.0)(0.069,2.0)(0.070,1.0)(0.071,1.8)(0.072,2.4)(0.0725,2.7)(0.073,2.0)(0.074,1.8)(0.075,2.5)(0.0755,1.0)(0.076,0.5)(0.0765,0.0)(0.077,0.6)(0.078,1.5)(0.079,2.2)(0.0795,1.0)(0.080,0.2)(0.081,1.5)(0.082,2.4)(0.0825,1.8)(0.083,0.8)(0.084,1.8)(0.085,2.6)(0.0855,1.5)(0.086,0.0)(0.087,1.5)(0.088,2.6)(0.0885,1.8)(0.089,0.3)(0.090,1.6)(0.091,2.7)(0.0915,2.0)(0.092,0.5)(0.0925,1.5)(0.093,2.5)(0.0935,1.0)(0.094,0.0)(0.095,1.2)(0.096,2.4)(0.0965,1.2)(0.097,0.1)(0.098,0.05)(0.099,0.1)(0.0995,1.5)(0.100,2.6)(0.101,2.0)(0.102,1.6)(0.103,1.4)(0.104,1.7)(0.105,1.5)(0.106,1.2)(0.107,1.0)(0.108,1.2)(0.109,1.1)(0.110,1.0)(0.111,0.9)(0.112,0.8)(0.114,0.6)(0.116,0.5)(0.118,0.6)(0.120,0.7)(0.122,0.75)(0.124,0.7)(0.126,0.65)(0.128,0.55)(0.130,0.45)(0.132,0.3)(0.134,0.15)(0.136,0.0)(0.137,0.05)(0.138,0.5)(0.139,1.1)(0.140,1.3)(0.141,0.9)(0.142,0.3)(0.143,0.1)(0.144,0.6)(0.145,1.5)(0.1455,1.9)(0.146,1.6)(0.147,0.6)(0.148,0.2)(0.149,0.9)(0.150,1.4)(0.151,0.9)(0.152,0.4)(0.153,1.8)(0.154,2.8)(0.155,2.6)(0.156,2.2)(0.157,1.2)(0.158,0.7)(0.159,1.0)(0.160,0.6)(0.161,0.4)(0.162,0.1)(0.163,0.0)(0.164,0.2)(0.165,0.4)(0.166,0.6)(0.167,0.75)(0.168,0.8)(0.169,0.7)(0.170,0.75)(0.171,0.6)(0.172,0.4)(0.173,0.25)(0.174,0.1)(0.175,0.0)(0.176,0.05)(0.177,0.3)(0.178,0.6)(0.179,0.4)(0.180,0.8)(0.181,0.6)(0.182,1.0)(0.183,0.7)(0.184,1.1)(0.185,0.8)(0.186,1.1)(0.187,0.8)(0.188,1.2)(0.189,0.9)(0.190,1.3)(0.191,1.0)(0.192,1.4)(0.193,1.0)(0.194,1.5)(0.195,1.1)(0.196,1.6)(0.197,1.2)(0.198,1.5)(0.199,1.1)(0.200,1.4)(0.201,1.0)(0.202,1.5)(0.203,1.1)(0.204,1.4)(0.205,1.0)(0.206,1.3)(0.207,1.0)(0.208,1.5)(0.209,1.1)(0.210,1.4)(0.211,1.0)(0.212,1.6)(0.213,1.2)(0.214,1.65)(0.215,1.1)(0.216,1.5)(0.217,1.0)(0.218,1.4)(0.219,1.0)(0.220,1.3)(0.221,0.9)(0.222,1.3)(0.223,0.9)(0.224,1.2)(0.225,0.8)(0.226,1.2)(0.227,0.8)(0.228,1.1)(0.229,0.7)(0.230,1.1)(0.231,0.7)(0.232,1.0)(0.233,0.7)(0.234,1.0)(0.235,0.6)(0.236,1.0)(0.237,0.7)(0.238,1.0)(0.239,0.6)(0.240,0.9)(0.241,0.6)(0.242,0.9)(0.243,0.6)(0.244,0.9)(0.245,0.6)(0.246,0.8)(0.247,0.6)(0.248,0.9)(0.249,0.7)(0.25,1.0)};
\end{axis}

\begin{axis}[pb, at={(27pt,287pt)}, anchor=south west, ymin=-1.15, ymax=4.65,
  ytick={0,2,4}, yticklabels={0,2,4},
  title={Reactive Power (pu), Q4}]
\addplot[gr] coordinates {(0,0.0)(0.001,-0.3)(0.002,-0.6)(0.003,0.2)(0.004,0.8)(0.005,1.1)(0.006,1.3)(0.007,1.5)(0.008,1.6)(0.009,1.5)(0.010,1.2)(0.011,1.0)(0.012,0.9)(0.013,1.2)(0.014,0.9)(0.015,0.5)(0.016,0.2)(0.017,0.0)(0.018,0.1)(0.019,0.2)(0.020,-0.3)(0.021,0.2)(0.022,-0.6)(0.023,0.1)(0.024,0.5)(0.025,0.9)(0.026,1.2)(0.027,1.0)(0.028,0.8)(0.029,0.9)(0.030,0.85)(0.032,0.7)(0.034,0.6)(0.036,0.5)(0.038,0.2)(0.040,0.0)(0.042,0.2)(0.043,0.3)(0.044,0.1)(0.046,0.0)(0.048,0.3)(0.050,0.5)(0.052,0.4)(0.054,0.2)(0.056,0.35)(0.058,0.5)(0.060,0.4)(0.062,0.35)(0.064,0.5)(0.066,0.4)(0.068,0.6)(0.070,0.55)(0.072,0.3)(0.074,0.45)(0.076,0.3)(0.078,0.5)(0.080,0.45)(0.082,0.3)(0.084,0.35)(0.086,0.25)(0.088,0.2)(0.090,0.3)(0.092,0.25)(0.094,0.4)(0.096,0.35)(0.098,0.25)(0.100,0.3)(0.102,0.2)(0.104,0.25)(0.106,0.35)(0.108,0.4)(0.110,0.45)(0.113,0.5)(0.116,0.5)(0.119,0.45)(0.122,0.4)(0.125,0.35)(0.128,0.3)(0.131,0.3)(0.134,0.35)(0.137,0.35)(0.140,0.4)(0.143,0.35)(0.146,0.4)(0.149,0.45)(0.151,0.5)(0.153,0.6)(0.155,0.55)(0.157,0.5)(0.159,0.45)(0.161,0.5)(0.163,0.7)(0.165,0.8)(0.167,0.7)(0.169,0.6)(0.171,0.5)(0.173,0.4)(0.175,0.45)(0.177,0.35)(0.179,0.5)(0.181,0.35)(0.183,0.45)(0.185,0.3)(0.187,0.45)(0.189,0.3)(0.191,0.5)(0.193,0.35)(0.195,0.5)(0.197,0.3)(0.199,0.45)(0.201,0.3)(0.203,0.45)(0.205,0.25)(0.207,0.4)(0.209,0.3)(0.211,0.45)(0.213,0.3)(0.215,0.5)(0.217,0.35)(0.219,0.5)(0.221,0.35)(0.223,0.5)(0.225,0.3)(0.227,0.45)(0.229,0.35)(0.231,0.5)(0.233,0.35)(0.235,0.55)(0.237,0.4)(0.239,0.6)(0.241,0.45)(0.243,0.6)(0.245,0.45)(0.247,0.6)(0.249,0.45)(0.25,0.55)};
\addplot[bk] coordinates {(0,0.0)(0.001,0.3)(0.002,0.1)(0.003,-0.2)(0.004,0.3)(0.005,0.5)(0.006,0.4)(0.007,0.7)(0.008,0.3)(0.009,0.6)(0.010,0.8)(0.011,1.0)(0.012,0.7)(0.013,0.9)(0.014,1.2)(0.015,1.3)(0.016,1.0)(0.017,1.5)(0.018,1.3)(0.019,1.6)(0.020,1.4)(0.021,1.8)(0.022,2.0)(0.023,1.6)(0.024,1.7)(0.025,1.9)(0.026,1.4)(0.0265,0.8)(0.027,0.0)(0.028,1.2)(0.029,1.4)(0.030,1.6)(0.031,1.2)(0.032,1.3)(0.033,1.6)(0.034,1.5)(0.035,1.2)(0.036,1.3)(0.037,1.5)(0.038,1.2)(0.039,1.4)(0.040,1.5)(0.041,1.2)(0.042,1.4)(0.043,1.5)(0.044,1.1)(0.045,1.3)(0.046,1.4)(0.047,1.2)(0.048,1.3)(0.049,1.5)(0.050,1.2)(0.051,1.3)(0.052,1.4)(0.053,1.0)(0.054,0.9)(0.055,1.2)(0.056,1.3)(0.057,1.0)(0.058,1.2)(0.059,1.4)(0.060,1.1)(0.061,1.0)(0.062,1.4)(0.063,1.2)(0.064,1.5)(0.065,1.2)(0.066,1.9)(0.067,2.6)(0.0675,1.8)(0.068,1.5)(0.069,2.0)(0.070,2.3)(0.0705,1.5)(0.071,0.8)(0.072,1.8)(0.0725,2.5)(0.073,1.2)(0.0735,1.0)(0.074,2.8)(0.0745,2.0)(0.075,1.0)(0.076,0.5)(0.077,1.8)(0.078,2.5)(0.0785,1.5)(0.079,1.6)(0.080,2.4)(0.081,2.7)(0.0815,1.8)(0.082,1.0)(0.083,2.5)(0.0835,1.5)(0.084,0.5)(0.085,2.0)(0.0855,3.3)(0.086,3.8)(0.0865,2.0)(0.087,1.0)(0.0875,2.0)(0.088,2.8)(0.0885,1.5)(0.089,0.4)(0.0895,1.2)(0.090,2.4)(0.0905,1.3)(0.091,0.5)(0.092,2.5)(0.0925,3.9)(0.093,2.5)(0.0935,1.0)(0.094,2.0)(0.095,3.3)(0.0955,1.5)(0.096,0.2)(0.0965,1.2)(0.097,2.5)(0.0975,1.0)(0.098,0.0)(0.099,2.5)(0.0995,4.6)(0.100,2.0)(0.1005,0.3)(0.101,2.5)(0.102,2.0)(0.103,1.8)(0.104,2.0)(0.105,1.7)(0.106,1.5)(0.107,1.6)(0.108,1.7)(0.109,1.4)(0.110,1.3)(0.112,1.15)(0.114,1.1)(0.116,1.2)(0.117,1.3)(0.119,1.25)(0.121,1.1)(0.123,0.8)(0.125,0.5)(0.127,0.2)(0.129,0.0)(0.131,-0.15)(0.133,-0.1)(0.134,0.15)(0.135,0.1)(0.136,-0.5)(0.137,-0.8)(0.138,-0.6)(0.139,-0.3)(0.140,-0.05)(0.141,0.0)(0.142,-0.1)(0.143,-0.3)(0.144,-0.6)(0.145,-0.9)(0.146,-1.1)(0.147,-0.5)(0.148,0.6)(0.149,1.5)(0.150,2.2)(0.1505,1.8)(0.151,1.0)(0.152,1.5)(0.153,2.1)(0.1535,1.0)(0.154,0.0)(0.1545,1.0)(0.155,2.0)(0.156,0.8)(0.157,-0.5)(0.158,-1.1)(0.159,-1.0)(0.160,-0.8)(0.161,-0.6)(0.162,-0.3)(0.163,-0.1)(0.165,0.2)(0.167,0.3)(0.169,0.2)(0.171,0.0)(0.173,-0.2)(0.175,-0.3)(0.177,-0.1)(0.178,0.2)(0.179,0.1)(0.180,0.5)(0.181,0.3)(0.182,0.6)(0.183,0.4)(0.184,0.7)(0.185,0.5)(0.186,0.8)(0.187,0.5)(0.188,0.8)(0.189,0.6)(0.190,0.9)(0.191,0.7)(0.192,1.1)(0.193,0.8)(0.194,1.2)(0.195,1.0)(0.196,1.4)(0.197,1.1)(0.198,1.5)(0.199,1.2)(0.200,1.3)(0.201,1.0)(0.202,1.4)(0.203,1.1)(0.204,1.4)(0.205,1.0)(0.206,1.3)(0.207,0.9)(0.208,1.3)(0.209,1.0)(0.210,1.2)(0.211,0.9)(0.212,1.3)(0.213,0.9)(0.214,1.25)(0.215,0.9)(0.216,1.2)(0.217,0.8)(0.218,1.1)(0.219,0.8)(0.220,1.1)(0.221,0.7)(0.222,1.0)(0.223,0.7)(0.224,0.9)(0.225,0.6)(0.226,0.9)(0.227,0.5)(0.228,0.8)(0.229,0.5)(0.230,0.7)(0.231,0.4)(0.232,0.7)(0.233,0.4)(0.234,0.6)(0.235,0.3)(0.236,0.55)(0.237,0.3)(0.238,0.5)(0.239,0.2)(0.240,0.45)(0.241,0.2)(0.242,0.4)(0.243,0.15)(0.244,0.3)(0.245,0.1)(0.246,0.2)(0.247,0.05)(0.248,0.1)(0.249,-0.05)(0.25,0.0)};
\end{axis}

\begin{axis}[pb, at={(27pt,171pt)}, anchor=south west, ymin=0, ymax=5,
  ytick={1,2,3,4,5}, yticklabels={1,2,3,4,5},
  title={Apparent Power (pu), S4}]
\addplot[gr] coordinates {(0,0.5)(0.001,1.5)(0.002,2.4)(0.003,3.2)(0.004,3.6)(0.005,3.1)(0.006,2.2)(0.007,1.9)(0.008,1.8)(0.009,1.9)(0.010,1.8)(0.011,1.5)(0.012,1.3)(0.013,1.1)(0.014,1.0)(0.015,1.05)(0.016,1.2)(0.017,1.1)(0.018,1.2)(0.019,1.0)(0.020,0.9)(0.021,1.2)(0.022,1.6)(0.023,1.4)(0.024,1.2)(0.025,1.0)(0.026,0.8)(0.027,0.7)(0.028,0.8)(0.030,0.75)(0.032,0.8)(0.034,0.7)(0.036,0.85)(0.038,0.8)(0.040,0.9)(0.042,0.75)(0.044,0.6)(0.046,0.7)(0.048,0.6)(0.050,0.7)(0.052,0.55)(0.054,0.5)(0.056,0.4)(0.058,0.45)(0.060,0.35)(0.062,0.4)(0.064,0.3)(0.066,0.35)(0.068,0.5)(0.070,0.4)(0.072,0.55)(0.074,0.35)(0.076,0.3)(0.078,0.5)(0.080,0.4)(0.082,0.55)(0.084,0.35)(0.086,0.5)(0.088,0.45)(0.090,0.6)(0.092,0.4)(0.094,0.5)(0.096,0.35)(0.098,0.3)(0.100,0.35)(0.102,0.5)(0.105,0.55)(0.108,0.6)(0.111,0.6)(0.114,0.6)(0.117,0.58)(0.120,0.55)(0.123,0.55)(0.126,0.5)(0.129,0.45)(0.132,0.4)(0.135,0.4)(0.138,0.45)(0.141,0.5)(0.144,0.55)(0.147,0.6)(0.149,0.7)(0.151,1.0)(0.152,1.3)(0.153,1.6)(0.154,1.4)(0.155,1.2)(0.156,1.0)(0.158,0.75)(0.160,0.7)(0.162,0.8)(0.164,0.75)(0.166,0.6)(0.168,0.45)(0.170,0.3)(0.172,0.25)(0.174,0.2)(0.176,0.3)(0.178,0.5)(0.180,0.6)(0.182,0.5)(0.184,0.65)(0.186,0.5)(0.188,0.65)(0.190,0.5)(0.192,0.6)(0.194,0.45)(0.196,0.55)(0.198,0.45)(0.200,0.6)(0.202,0.5)(0.204,0.65)(0.206,0.5)(0.208,0.6)(0.210,0.5)(0.212,0.7)(0.214,0.55)(0.216,0.7)(0.218,0.55)(0.220,0.75)(0.222,0.6)(0.224,0.8)(0.226,0.7)(0.228,0.95)(0.230,0.8)(0.232,0.9)(0.234,0.7)(0.236,0.85)(0.238,0.7)(0.240,0.85)(0.242,0.7)(0.244,0.9)(0.246,0.75)(0.248,0.9)(0.25,0.85)};
\addplot[bk] coordinates {(0,0.1)(0.001,0.5)(0.002,0.3)(0.003,0.1)(0.004,0.8)(0.005,1.3)(0.006,1.1)(0.007,1.0)(0.008,1.1)(0.009,0.9)(0.010,1.1)(0.011,1.2)(0.012,1.0)(0.013,1.3)(0.014,1.6)(0.015,1.2)(0.016,1.7)(0.017,2.0)(0.018,1.6)(0.019,2.1)(0.020,2.5)(0.021,1.9)(0.022,2.3)(0.023,2.6)(0.024,2.0)(0.025,2.2)(0.026,2.4)(0.0265,1.5)(0.027,0.5)(0.028,1.5)(0.029,2.1)(0.030,2.4)(0.031,1.9)(0.032,1.7)(0.033,2.2)(0.034,2.2)(0.035,1.6)(0.036,1.5)(0.037,2.0)(0.038,2.0)(0.039,1.5)(0.040,1.5)(0.041,2.0)(0.042,2.1)(0.043,1.6)(0.044,1.6)(0.045,2.0)(0.046,2.1)(0.047,1.6)(0.048,1.5)(0.049,1.9)(0.050,2.0)(0.051,1.5)(0.052,1.4)(0.053,1.9)(0.054,2.0)(0.055,1.4)(0.056,1.3)(0.057,1.8)(0.058,1.9)(0.059,1.4)(0.060,1.4)(0.061,2.0)(0.062,2.2)(0.063,1.5)(0.064,1.0)(0.065,1.6)(0.066,2.0)(0.067,0.5)(0.068,3.2)(0.069,2.5)(0.070,2.0)(0.071,2.8)(0.072,3.5)(0.073,2.5)(0.074,3.7)(0.075,2.5)(0.0755,1.0)(0.0765,0.5)(0.077,1.5)(0.078,2.8)(0.079,2.0)(0.080,3.2)(0.0805,2.0)(0.081,1.0)(0.082,2.0)(0.083,3.0)(0.0835,1.8)(0.084,0.8)(0.085,2.5)(0.0865,4.2)(0.087,1.0)(0.0875,2.0)(0.088,3.5)(0.0885,1.8)(0.089,0.5)(0.090,3.0)(0.0905,1.8)(0.091,0.8)(0.092,3.0)(0.0925,4.3)(0.093,1.5)(0.094,2.5)(0.095,3.5)(0.0955,1.8)(0.096,0.5)(0.097,3.0)(0.0975,1.5)(0.098,0.2)(0.099,3.0)(0.0995,5.0)(0.100,2.0)(0.1005,0.5)(0.101,3.2)(0.102,2.7)(0.103,2.5)(0.104,2.7)(0.105,2.3)(0.106,2.0)(0.107,2.3)(0.108,2.2)(0.109,1.8)(0.110,1.6)(0.112,1.4)(0.114,1.3)(0.116,1.2)(0.118,1.1)(0.120,1.0)(0.122,0.85)(0.124,0.75)(0.126,0.65)(0.128,0.55)(0.130,0.5)(0.132,0.4)(0.134,0.3)(0.136,0.0)(0.137,0.3)(0.138,0.8)(0.139,1.2)(0.140,1.35)(0.141,0.9)(0.142,0.2)(0.143,0.4)(0.144,1.0)(0.145,1.7)(0.1455,1.85)(0.146,1.5)(0.147,0.4)(0.148,0.5)(0.149,1.0)(0.150,1.8)(0.151,2.0)(0.152,1.4)(0.153,2.2)(0.154,2.8)(0.155,2.7)(0.156,2.4)(0.157,1.2)(0.158,0.7)(0.159,0.9)(0.160,0.6)(0.161,0.4)(0.162,0.3)(0.163,0.4)(0.164,0.5)(0.165,0.6)(0.166,0.75)(0.167,0.8)(0.168,0.8)(0.169,0.75)(0.170,0.7)(0.171,0.6)(0.172,0.45)(0.173,0.3)(0.174,0.2)(0.175,0.05)(0.176,0.0)(0.177,0.4)(0.178,0.7)(0.179,0.6)(0.180,1.0)(0.181,0.8)(0.182,1.2)(0.183,0.9)(0.184,1.3)(0.185,1.0)(0.186,1.4)(0.187,1.1)(0.188,1.5)(0.189,1.2)(0.190,1.6)(0.191,1.3)(0.192,1.8)(0.193,1.4)(0.194,1.9)(0.195,1.5)(0.196,2.1)(0.197,1.7)(0.198,2.0)(0.199,1.6)(0.200,1.9)(0.201,1.5)(0.202,2.0)(0.203,1.6)(0.204,1.9)(0.205,1.4)(0.206,1.8)(0.207,1.4)(0.208,1.9)(0.209,1.5)(0.210,1.8)(0.211,1.4)(0.212,2.0)(0.213,1.5)(0.214,2.1)(0.215,1.5)(0.216,1.9)(0.217,1.4)(0.218,1.8)(0.219,1.3)(0.220,1.7)(0.221,1.2)(0.222,1.6)(0.223,1.2)(0.224,1.5)(0.225,1.0)(0.226,1.4)(0.227,1.0)(0.228,1.3)(0.229,0.9)(0.230,1.3)(0.231,0.9)(0.232,1.2)(0.233,0.8)(0.234,1.2)(0.235,0.8)(0.236,1.1)(0.237,0.7)(0.238,1.0)(0.239,0.7)(0.240,1.0)(0.241,0.7)(0.242,1.0)(0.243,0.6)(0.244,0.9)(0.245,0.6)(0.246,0.8)(0.247,0.7)(0.248,0.9)(0.249,0.8)(0.25,1.1)};
\end{axis}

\begin{axis}[pb, tlab, at={(27pt,53pt)}, anchor=south west, ymin=0, ymax=100,
  ytick={0,50,100}, yticklabels={0,50,100},
  title={Power Factor (\%), PF4}]
\addplot[gr] coordinates {(0,100)(0.003,80)(0.006,60)(0.008,45)(0.010,30)(0.012,20)(0.014,30)(0.016,60)(0.018,80)(0.020,95)(0.022,100)(0.024,80)(0.025,30)(0.026,5)(0.028,50)(0.030,70)(0.033,90)(0.036,100)(0.039,80)(0.042,55)(0.045,30)(0.048,40)(0.050,25)(0.052,45)(0.055,30)(0.058,70)(0.060,90)(0.062,50)(0.064,10)(0.065,0)(0.067,30)(0.069,10)(0.070,50)(0.072,20)(0.074,60)(0.076,90)(0.078,50)(0.080,100)(0.082,60)(0.084,90)(0.086,30)(0.088,70)(0.090,10)(0.092,60)(0.094,100)(0.096,80)(0.098,40)(0.100,30)(0.102,70)(0.104,90)(0.107,80)(0.110,60)(0.113,35)(0.115,20)(0.117,25)(0.120,50)(0.124,80)(0.128,90)(0.132,70)(0.135,30)(0.137,20)(0.140,50)(0.143,80)(0.146,85)(0.149,70)(0.150,40)(0.152,90)(0.155,60)(0.158,50)(0.162,80)(0.165,90)(0.168,80)(0.171,60)(0.174,30)(0.177,50)(0.180,80)(0.183,90)(0.186,70)(0.189,50)(0.192,60)(0.195,45)(0.198,60)(0.200,80)(0.205,90)(0.210,70)(0.215,85)(0.220,75)(0.225,90)(0.230,80)(0.235,95)(0.240,85)(0.245,90)(0.25,75)};
\addplot[bk] coordinates {(0,95)(0.001,60)(0.002,15)(0.003,90)(0.005,100)(0.007,70)(0.008,80)(0.010,60)(0.012,80)(0.014,60)(0.016,75)(0.018,80)(0.020,60)(0.021,40)(0.022,75)(0.024,55)(0.026,70)(0.027,85)(0.0275,100)(0.028,60)(0.030,80)(0.032,60)(0.034,70)(0.036,65)(0.038,75)(0.040,70)(0.042,75)(0.044,65)(0.046,75)(0.048,70)(0.050,75)(0.052,80)(0.054,70)(0.056,75)(0.058,60)(0.060,70)(0.062,50)(0.063,30)(0.064,60)(0.066,20)(0.067,50)(0.068,0)(0.069,70)(0.0705,100)(0.071,30)(0.072,60)(0.073,0)(0.074,80)(0.075,30)(0.076,0)(0.077,60)(0.078,80)(0.079,20)(0.080,70)(0.081,10)(0.082,90)(0.083,40)(0.084,60)(0.085,0)(0.086,80)(0.087,0)(0.088,90)(0.089,30)(0.090,60)(0.091,0)(0.092,80)(0.093,0)(0.094,70)(0.095,20)(0.096,90)(0.097,60)(0.098,0)(0.099,80)(0.100,40)(0.101,70)(0.103,75)(0.105,60)(0.107,70)(0.110,55)(0.112,40)(0.115,30)(0.118,45)(0.120,60)(0.123,80)(0.126,95)(0.129,100)(0.131,97)(0.133,100)(0.1345,40)(0.136,0)(0.137,0)(0.138,60)(0.140,100)(0.142,80)(0.1435,30)(0.144,0)(0.145,80)(0.147,100)(0.149,50)(0.150,95)(0.1515,0)(0.152,0)(0.153,80)(0.155,70)(0.157,60)(0.160,90)(0.162,80)(0.164,100)(0.168,100)(0.171,60)(0.1735,20)(0.175,0)(0.1755,50)(0.177,80)(0.180,90)(0.183,85)(0.186,95)(0.188,70)(0.190,60)(0.192,80)(0.195,70)(0.198,65)(0.200,75)(0.202,68)(0.205,78)(0.207,70)(0.210,80)(0.212,72)(0.215,78)(0.217,70)(0.220,85)(0.222,78)(0.225,82)(0.227,75)(0.230,90)(0.232,82)(0.235,88)(0.237,80)(0.240,95)(0.242,88)(0.245,92)(0.247,86)(0.25,100)};
\end{axis}
\node[font=\capfont\fontsize{15.5}{18}\selectfont] at (281pt,15pt) {(b) Bus 4};
\end{tikzpicture}
\end{document}
